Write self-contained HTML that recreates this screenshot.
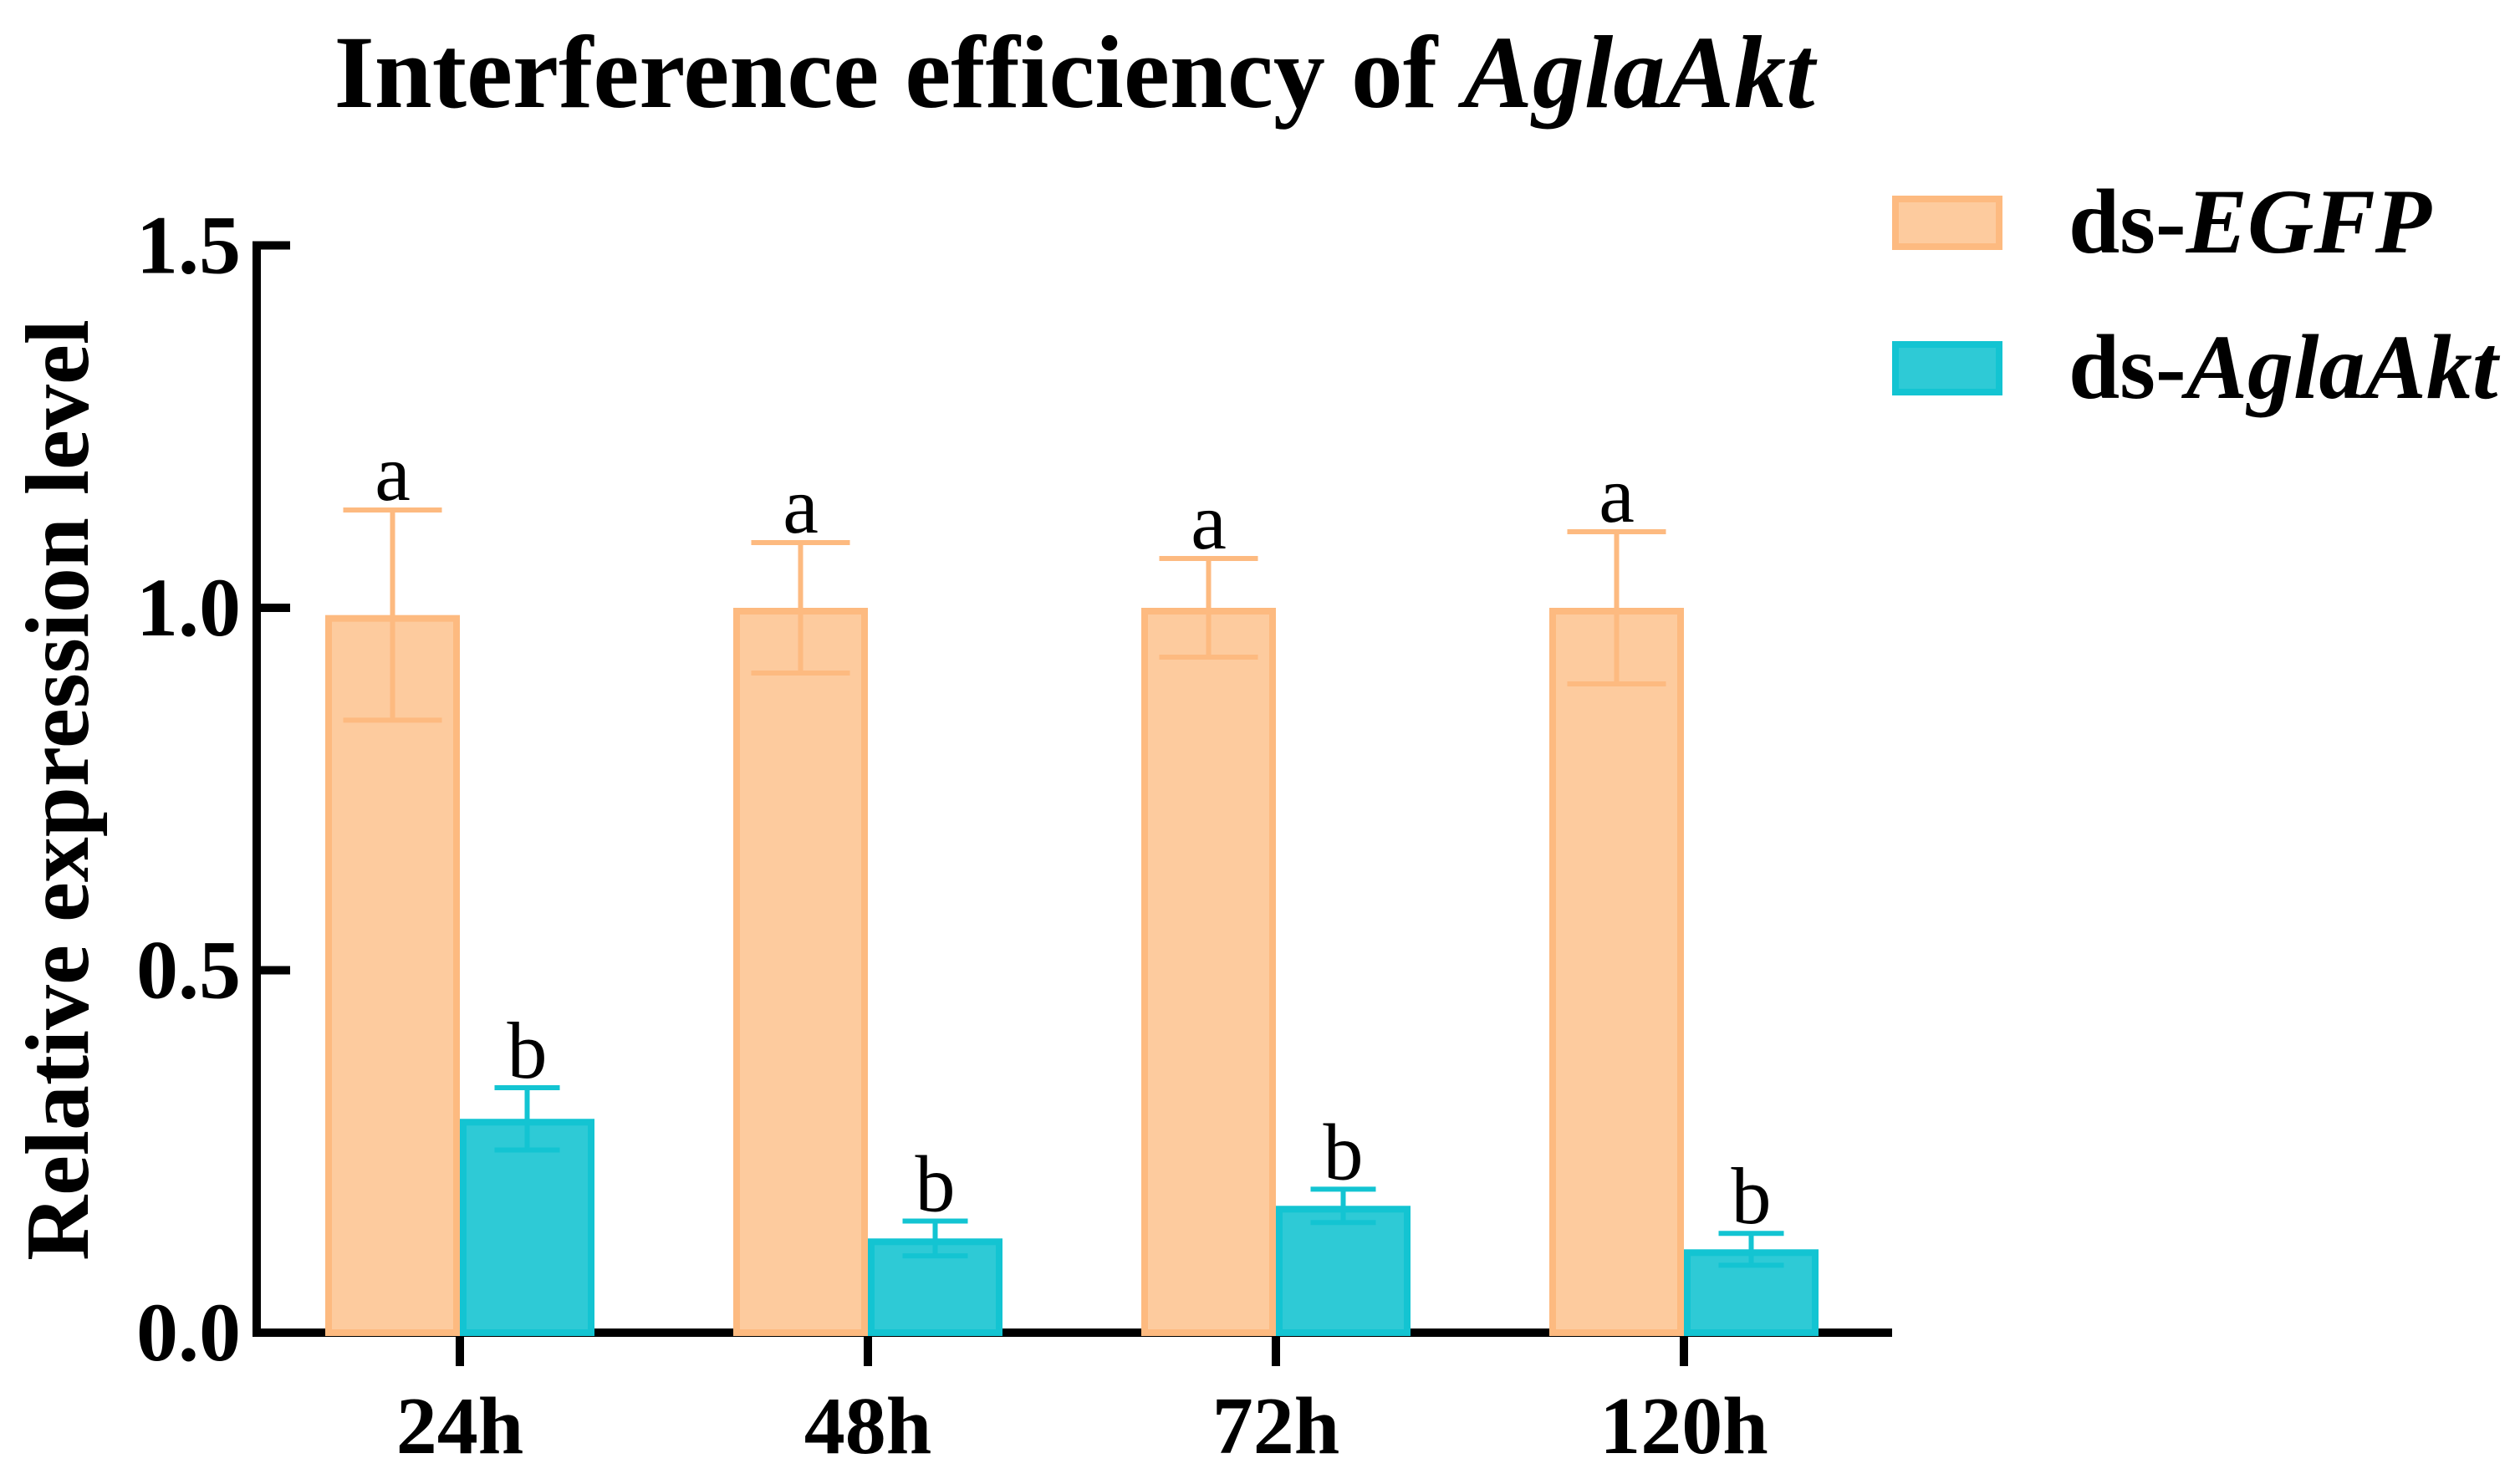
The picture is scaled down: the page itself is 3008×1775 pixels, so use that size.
<!DOCTYPE html>
<html><head><meta charset="utf-8"><style>
html,body{margin:0;padding:0;background:#fff;}
svg{display:block;font-family:"Liberation Serif",serif;}
</style></head><body>
<svg width="3008" height="1775" viewBox="0 0 3008 1775" xmlns="http://www.w3.org/2000/svg">
<text x="1285" y="128" text-anchor="middle" font-size="124" font-weight="bold">Interference efficiency of <tspan font-style="italic">AglaAkt</tspan></text>
<text transform="translate(105,945) rotate(-90)" text-anchor="middle" font-size="108" font-weight="bold">Relative expression level</text>
<g id="axes"></g>
<g id="bars"></g>
<g>
<rect x="2267" y="238" width="124" height="57" fill="#FDCB9E" stroke="#FDBA80" stroke-width="8"/>
<text x="2474" y="302" font-size="110" font-weight="bold">ds-<tspan font-style="italic">EGFP</tspan></text>
<rect x="2267" y="412" width="124" height="57" fill="#2ECAD6" stroke="#13C4D2" stroke-width="8"/>
<text x="2474" y="476" font-size="110" font-weight="bold">ds-<tspan font-style="italic">AglaAkt</tspan></text>
</g>
</svg>
<script>
const categories=["24h","48h","72h","120h"];
const egfpValues=[0.99,1.0,1.0,1.0];
const egfpErr=[0.145,0.09,0.068,0.105];
const aktValues=[0.295,0.13,0.175,0.115];
const aktErr=[0.043,0.024,0.023,0.022];
const sigEgfp=["a","a","a","a"];
const sigAkt=["b","b","b","b"];
const yTicks=[0,0.5,1.0,1.5];
const yTickLabels=["0.0","0.5","1.0","1.5"];

const NS="http://www.w3.org/2000/svg";
const X0=307,XEND=2263,Y0=1594,Y1=293.5;
const yS=v=>Y0-(v/1.5)*(Y0-Y1);
const xC=i=>550+i*488;
const BW=161;
function mk(tag,attrs,parent){const e=document.createElementNS(NS,tag);for(const k in attrs)e.setAttribute(k,attrs[k]);parent.appendChild(e);return e;}
const axes=document.getElementById('axes');
const bars=document.getElementById('bars');

function bar(x,v,err,fill,stroke,cap,letter,nm){
  const r=mk('rect',{x:x+4,y:yS(v)+4,width:BW-8,height:Y0-yS(v)-4,fill:fill,stroke:stroke,'stroke-width':8},bars);
  
  
  const cx=x+BW/2;
  const g=mk('g',{stroke:stroke,'stroke-width':6},bars);
  
  
  mk('line',{x1:cx,x2:cx,y1:yS(v+err),y2:yS(v-err)},g);
  mk('line',{x1:cx-cap/2,x2:cx+cap/2,y1:yS(v+err),y2:yS(v+err)},g);
  mk('line',{x1:cx-cap/2,x2:cx+cap/2,y1:yS(v-err),y2:yS(v-err)},g);
  const t=mk('text',{x:cx,y:yS(v+err)-12,'text-anchor':'middle','font-size':96},bars);
  t.textContent=letter;
  
  
}
categories.forEach((c,i)=>{
  bar(xC(i)-BW,egfpValues[i],egfpErr[i],'#FDCB9E','#FDBA80',118,sigEgfp[i],'egfp-'+c);
  bar(xC(i),aktValues[i],aktErr[i],'#2ECAD6','#13C4D2',78,sigAkt[i],'aglaakt-'+c);
  const tk=mk('line',{x1:xC(i),x2:xC(i),y1:Y0,y2:Y0+40,stroke:'#000','stroke-width':10},axes);
  
  
  const t=mk('text',{x:xC(i),y:1738,'text-anchor':'middle','font-size':98,'font-weight':'bold'},axes);
  t.textContent=c;
  
  
});
const ya=mk('line',{x1:X0,x2:X0,y1:Y1-5,y2:Y0+5,stroke:'#000','stroke-width':10},axes);


const xa=mk('line',{x1:X0-5,x2:XEND,y1:Y0,y2:Y0,stroke:'#000','stroke-width':10},axes);


yTicks.forEach((v,i)=>{
  const tk=mk('line',{x1:X0,x2:X0+40,y1:yS(v),y2:yS(v),stroke:'#000','stroke-width':10},axes);
  
  
  const t=mk('text',{x:288,y:yS(v)+33,'text-anchor':'end','font-size':100,'font-weight':'bold'},axes);
  t.textContent=yTickLabels[i];
  
  
});
</script>
</body></html>
